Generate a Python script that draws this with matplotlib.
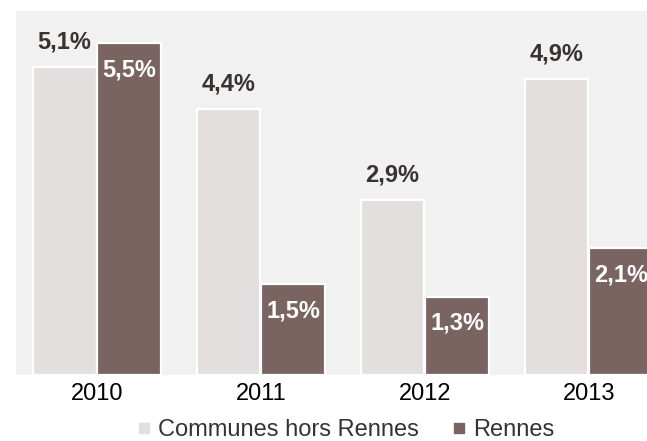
import numpy as np
import matplotlib
matplotlib.use("Agg")
import matplotlib.pyplot as plt
from matplotlib.lines import Line2D

years = ["2010", "2011", "2012", "2013"]
communes = [5.1, 4.4, 2.9, 4.9]
rennes = [5.5, 1.5, 1.3, 2.1]

LIGHT = "#e4dfdf"
DARK = "#7a6461"
BG = "#f1f1f1"
TXT = "#3a3131"

plt.rcParams["font.family"] = ["Liberation Sans", "DejaVu Sans"]

fig = plt.figure(figsize=(6.47, 4.41), dpi=100)
ax = fig.add_axes([16 / 647, 1 - 375 / 441, 1 - 16 / 647, 364 / 441])
ax.set_facecolor(BG)

x = np.arange(len(years))
w = 0.39
b1 = ax.bar(x - 0.198, communes, w, color=LIGHT, edgecolor="white", linewidth=1.6)
b2 = ax.bar(x + 0.198, rennes, w, color=DARK, edgecolor="white", linewidth=1.6)

# value labels: above the light bars, inside the top of the dark bars
for rect, v in zip(b1, communes):
    ax.annotate(f"{v:.1f}".replace(".", ",") + "%",
                (rect.get_x() + rect.get_width() / 2, v),
                xytext=(0, 10), textcoords="offset points",
                ha="center", va="bottom", fontsize=17, fontweight="bold", color=TXT)
for rect, v in zip(b2, rennes):
    ax.annotate(f"{v:.1f}".replace(".", ",") + "%",
                (rect.get_x() + rect.get_width() / 2, v),
                xytext=(0, -11), textcoords="offset points",
                ha="center", va="top", fontsize=17, fontweight="bold", color="white")

ax.set_xlim(-0.494, 3.354)
ax.set_ylim(0, 6.03)
ax.set_xticks(x)
ax.set_xticklabels(years, fontsize=17, color="black")
ax.tick_params(axis="x", length=0, pad=6)
ax.set_yticks([])
for s in ax.spines.values():
    s.set_visible(False)

handles = [
    Line2D([], [], marker="s", linestyle="none", markersize=6.5, color=LIGHT),
    Line2D([], [], marker="s", linestyle="none", markersize=6.5, color=DARK),
]
fig.legend(handles, ["Communes hors Rennes", "Rennes"], loc="center",
           bbox_to_anchor=(346 / 647, 1 - 430 / 441), ncol=2, frameon=False,
           fontsize=17, handlelength=0.6, handletextpad=0.3, columnspacing=1.4,
           labelcolor="#333333")

fig.savefig("out.png", dpi=100, facecolor="white")
